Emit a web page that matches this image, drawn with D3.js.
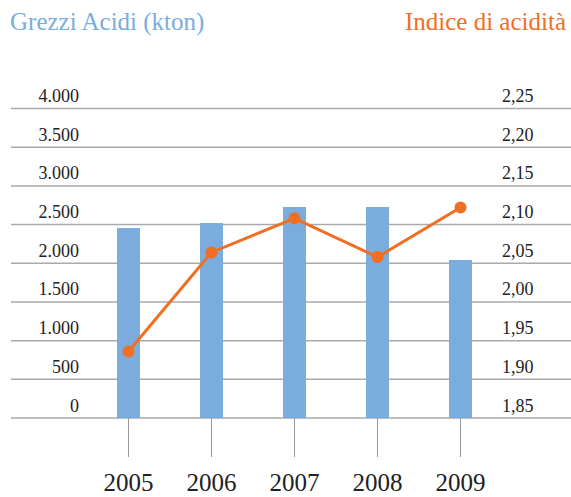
<!DOCTYPE html>
<html>
<head>
<meta charset="utf-8">
<script src="https://cdn.jsdelivr.net/npm/d3@7"></script>
<style>
  body { margin: 0; background: #fff; }
</style>
</head>
<body>
<div id="chart"></div>
<script>
// data
const years = ["2005", "2006", "2007", "2008", "2009"];
const grezziAcidi = [2455, 2520, 2727, 2727, 2042];   // kton
const indiceAcidita = [1.936, 2.064, 2.108, 2.058, 2.122];
const leftTicks = [0, 500, 1000, 1500, 2000, 2500, 3000, 3500, 4000];
const rightTicks = [1.85, 1.90, 1.95, 2.00, 2.05, 2.10, 2.15, 2.20, 2.25];

const W = 571, H = 497;
const blue = "#7aaddd", orange = "#f06f22", grid = "#aaaaaa";
const serif = "Liberation Serif, DejaVu Serif, Times New Roman, serif";

const it = d3.formatLocale({decimal: ",", thousands: ".", grouping: [3], currency: ["€", ""]});

const svg = d3.select("#chart").append("svg")
    .attr("width", W)
    .attr("height", H)
    .style("font-family", serif);

const x = d3.scaleBand()
    .domain(years)
    .range([87, 502]);
const yL = d3.scaleLinear()
    .domain([0, 4000])
    .range([418, 108.5]);
const yR = d3.scaleLinear()
    .domain([1.85, 2.25])
    .range([418, 108.5]);

// titles
svg.append("text")
    .attr("x", 10).attr("y", 30)
    .style("font-family", serif)
    .attr("font-size", 25)
    .attr("fill", blue)
    .text("Grezzi Acidi (kton)");
svg.append("text")
    .attr("x", 566).attr("y", 30)
    .attr("text-anchor", "end")
    .style("font-family", serif)
    .attr("font-size", 25)
    .attr("fill", orange)
    .text("Indice di acidità");

// gridlines
svg.append("g")
    .selectAll("line")
    .data(leftTicks)
    .enter().append("line")
    .attr("x1", 11).attr("x2", W)
    .attr("y1", d => yL(d)).attr("y2", d => yL(d))
    .attr("stroke", grid)
    .attr("stroke-width", 1.5);

// left axis labels, sitting above their line
const gl = svg.append("g")
    .attr("transform", "translate(79,0)")
    .call(d3.axisLeft(yL).tickValues(leftTicks).tickFormat(it.format(",.0f")).tickSize(0).tickPadding(0));
gl.select(".domain").remove();
gl.selectAll("text")
    .attr("dy", -7)
    .attr("font-size", 18)
    .style("font-family", serif)
    .attr("fill", "#222");

const gr = svg.append("g")
    .attr("transform", "translate(502,0)")
    .call(d3.axisRight(yR).tickValues(rightTicks).tickFormat(it.format(".2f")).tickSize(0).tickPadding(0));
gr.select(".domain").remove();
gr.selectAll("text")
    .attr("dy", -7)
    .attr("font-size", 18)
    .style("font-family", serif)
    .attr("fill", "#222");

// bars
const barW = 23;
svg.selectAll(".bar")
    .data(years)
    .enter().append("rect")
    .attr("class", "bar")
    .attr("x", d => x(d) + x.bandwidth() / 2 - barW / 2)
    .attr("width", barW)
    .attr("y", (d, i) => yL(grezziAcidi[i]))
    .attr("height", (d, i) => yL(0) - yL(grezziAcidi[i]))
    .attr("fill", blue);

// category ticks and labels
const gx = svg.append("g")
    .attr("transform", `translate(0,${yL(0)})`)
    .call(d3.axisBottom(x).tickSize(39).tickPadding(16));
gx.select(".domain").remove();
gx.selectAll("line").attr("stroke", "#999").attr("stroke-width", 1);
gx.selectAll("text")
    .attr("font-size", 25)
    .style("font-family", serif)
    .attr("fill", "#222");

// acidity line
const cx = d => x(d) + x.bandwidth() / 2;
const line = d3.line()
    .x((d, i) => cx(years[i]))
    .y(d => yR(d));
svg.append("path")
    .datum(indiceAcidita)
    .attr("d", line)
    .attr("fill", "none")
    .attr("stroke", orange)
    .attr("stroke-width", 3);
svg.selectAll(".dot")
    .data(indiceAcidita)
    .enter().append("circle")
    .attr("class", "dot")
    .attr("cx", (d, i) => cx(years[i]))
    .attr("cy", d => yR(d))
    .attr("r", 6)
    .attr("fill", orange);
</script>
</body>
</html>
